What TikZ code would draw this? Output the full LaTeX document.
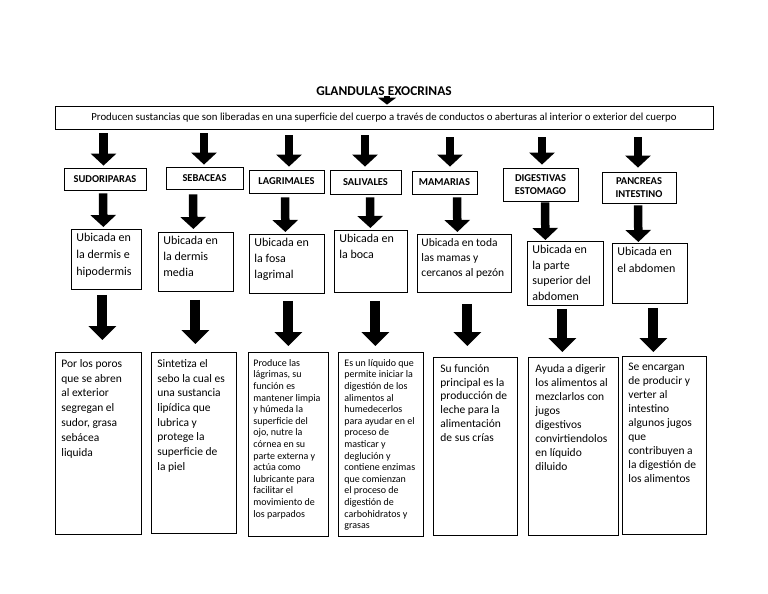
\documentclass[tikz,border=0pt]{standalone}
\usepackage{fontspec}
\setmainfont{Carlito}
\usetikzlibrary{arrows.meta,calc}
\newcommand{\tb}[5]{\parbox[c][#2pt][t]{#1pt}{\raggedright\fontsize{#3}{#4}\selectfont #5}}
\begin{document}
\begin{tikzpicture}[x=1pt,y=1pt,
  bx/.style={draw, line width=0.8pt, anchor=north west, inner xsep=5pt, inner ysep=4pt},
  bt/.style={bx, inner ysep=7pt},
  hd/.style={draw, line width=0.8pt, inner sep=1pt, align=center, font=\fontsize{10.5}{13.3}\selectfont\bfseries},
  blk/.style={line width=8.5pt, -{Triangle[width=25pt,length=12pt]}},
  blkb/.style={line width=10pt, -{Triangle[width=27pt,length=14pt]}},
  ]
\useasboundingbox (0,0) rectangle (768,-594);
% title and main box
\node[font=\fontsize{13.4}{15}\selectfont\bfseries] (title) at (384,-91) {GLANDULAS EXOCRINAS};
\node[draw, line width=0.8pt, minimum width=658pt, minimum height=23pt, inner sep=0pt,
  font=\fontsize{10.8}{12}\selectfont] (main) at (384,-117.5)
  {Producen sustancias que son liberadas en una superficie del cuerpo a través de conductos o aberturas al interior o exterior del cuerpo};
\draw[line width=6pt, -{Triangle[width=18pt,length=7pt]}] ($(title.center)+(3,-5)$) -- ($(main.north)+(3,1)$);
% headers
\node[hd, minimum width=82pt, minimum height=22pt] (h1) at (105,-179) {SUDORIPARAS};
\node[hd, minimum width=77pt, minimum height=22pt] (h2) at (204.5,-178) {SEBACEAS};
\node[hd, minimum width=75pt, minimum height=23pt] (h3) at (286.5,-181.5) {LAGRIMALES};
\node[hd, minimum width=71pt, minimum height=24pt] (h4) at (365.5,-182) {SALIVALES};
\node[hd, minimum width=65pt, minimum height=23pt] (h5) at (444.5,-182.5) {MAMARIAS};
\node[hd, minimum width=75pt, minimum height=33pt] (h6) at (540.5,-184.5) {DIGESTIVAS\\ESTOMAGO};
\node[hd, minimum width=74pt, minimum height=31pt] (h7) at (639,-187.5) {PANCREAS\\INTESTINO};
% middle boxes
\node[bx] (m1) at (71,-229) {\tb{60}{52}{12}{17}{Ubicada en\\la dermis e\\hipodermis}};
\node[bx] (m2) at (158,-232) {\tb{65}{51}{12}{16}{Ubicada en\\la dermis\\media}};
\node[bx] (m3) at (249,-234) {\tb{65}{51}{12}{16}{Ubicada en\\la fosa\\lagrimal}};
\node[bx] (m4) at (334,-230) {\tb{63}{54}{12}{16}{Ubicada en\\la boca}};
\node[bx, inner xsep=4pt] (m5) at (417,-234) {\tb{86}{50}{11.5}{15}{Ubicada en toda\\las mamas y\\cercanos al pezón}};
\node[bx] (m6) at (527,-241) {\tb{66}{56}{12}{15.6}{Ubicada en\\la parte\\superior del\\abdomen}};
\node[bx] (m7) at (612,-243) {\tb{65}{52}{12}{16.5}{Ubicada en\\el abdomen}};
% bottom boxes
\node[bt, inner xsep=6pt] (b1) at (55,-352) {\tb{74}{168}{11.5}{14.8}{Por los poros\\que se abren\\al exterior\\segregan el\\sudor, grasa\\sebácea\\liquida}};
\node[bt, inner xsep=6pt] (b2) at (151,-352) {\tb{73}{167}{11.5}{14.7}{Sintetiza el\\sebo la cual es\\una sustancia\\lipídica que\\lubrica y\\protege la\\superficie de\\la piel}};
\node[bt] (b3) at (248,-352) {\tb{70}{170}{10}{11.6}{Produce las\\lágrimas, su\\función es\\mantener limpia\\y húmeda la\\superficie del\\ojo, nutre la\\córnea en su\\parte externa y\\actúa como\\lubricante para\\facilitar el\\movimiento de\\los parpados}};
\node[bt, inner xsep=6pt] (b4) at (338,-352) {\tb{73}{170}{10}{11.6}{Es un líquido que\\permite iniciar la\\digestión de los\\alimentos al\\humedecerlos\\para ayudar en el\\proceso de\\masticar y\\deglución y\\contiene enzimas\\que comienzan\\el proceso de\\digestión de\\carbohidratos y\\grasas}};
\node[bt, inner xsep=7pt] (b5) at (433,-357) {\tb{70}{164}{11.5}{13.8}{Su función\\principal es la\\producción de\\leche para la\\alimentación\\de sus crías}};
\node[bt, inner xsep=7pt] (b6) at (528,-357) {\tb{76}{164}{11.5}{14}{Ayuda a digerir\\los alimentos al\\mezclarlos con\\jugos\\digestivos\\convirtiendolos\\en líquido\\diluido}};
\node[bt, inner xsep=6pt] (b7) at (622,-356) {\tb{72}{164}{11.5}{14}{Se encargan\\de producir y\\verter al\\intestino\\algunos jugos\\que\\contribuyen a\\la digestión de\\los alimentos}};
% arrows main -> headers
\draw[blk] ($(main.south -| h1.north)+(-1.5,-4)$) -- ($(h1.north)+(-1.5,2)$);
\draw[blk] ($(main.south -| h2.north)+(-0.5,-4)$) -- ($(h2.north)+(-0.5,2)$);
\draw[blk] ($(main.south -| h3.north)+(2.5,-6)$) -- ($(h3.north)+(2.5,3)$);
\draw[blk] ($(main.south -| h4.north)+(-0.5,-6)$) -- ($(h4.north)+(-0.5,3)$);
\draw[blk] ($(main.south -| h5.north)+(5.5,-8)$) -- ($(h5.north)+(5.5,4)$);
\draw[blk] ($(main.south -| h6.north)+(1.5,-8)$) -- ($(h6.north)+(1.5,3)$);
\draw[blk] ($(main.south -| h7.north)+(-1,-8)$) -- ($(h7.north)+(-1,4)$);
% arrows headers -> middle
\draw[blk] ($(h1.south)+(-2,-3)$) -- ($(m1.north)+(-3,2)$);
\draw[blk] ($(h2.south)+(-11.5,-5)$) -- ($(m2.north)+(-2.5,3)$);
\draw[blk] ($(h3.south)+(-1.5,-4)$) -- ($(m3.north)+(-1.5,2)$);
\draw[blk] ($(h4.south)+(4.5,-3)$) -- ($(m4.north)+(-0.5,2)$);
\draw[blk] ($(h5.south)+(12.5,-3)$) -- ($(m5.north)+(-7,2)$);
\draw[blk] ($(h6.south)+(4.5,-1)$) -- ($(m6.north)+(-20,1)$);
\draw[blk] ($(h7.south)+(-1,-2)$) -- ($(m7.north)+(-11.5,1)$);
% arrows middle -> bottom
\draw[blkb] ($(m1.south)+(-4,-5)$) -- ($(b1.north)+(4,12)$);
\draw[blkb] ($(m2.south)+(-0.5,-8)$) -- ($(b2.north)+(1.5,8)$);
\draw[blkb] ($(m3.south)+(1.5,-7)$) -- ($(b3.north)+(0,6)$);
\draw[blkb] ($(m4.south)+(4.5,-8)$) -- ($(b4.north)+(-5.5,6)$);
\draw[blkb] ($(m5.south)+(3,-11)$) -- ($(b5.north)+(-8,11)$);
\draw[blkb] ($(m6.south)+(-3,-3)$) -- ($(b6.north)+(-11,5)$);
\draw[blkb] ($(m7.south)+(3.5,-4)$) -- ($(b7.north)+(-11,4)$);
\end{tikzpicture}
\end{document}
